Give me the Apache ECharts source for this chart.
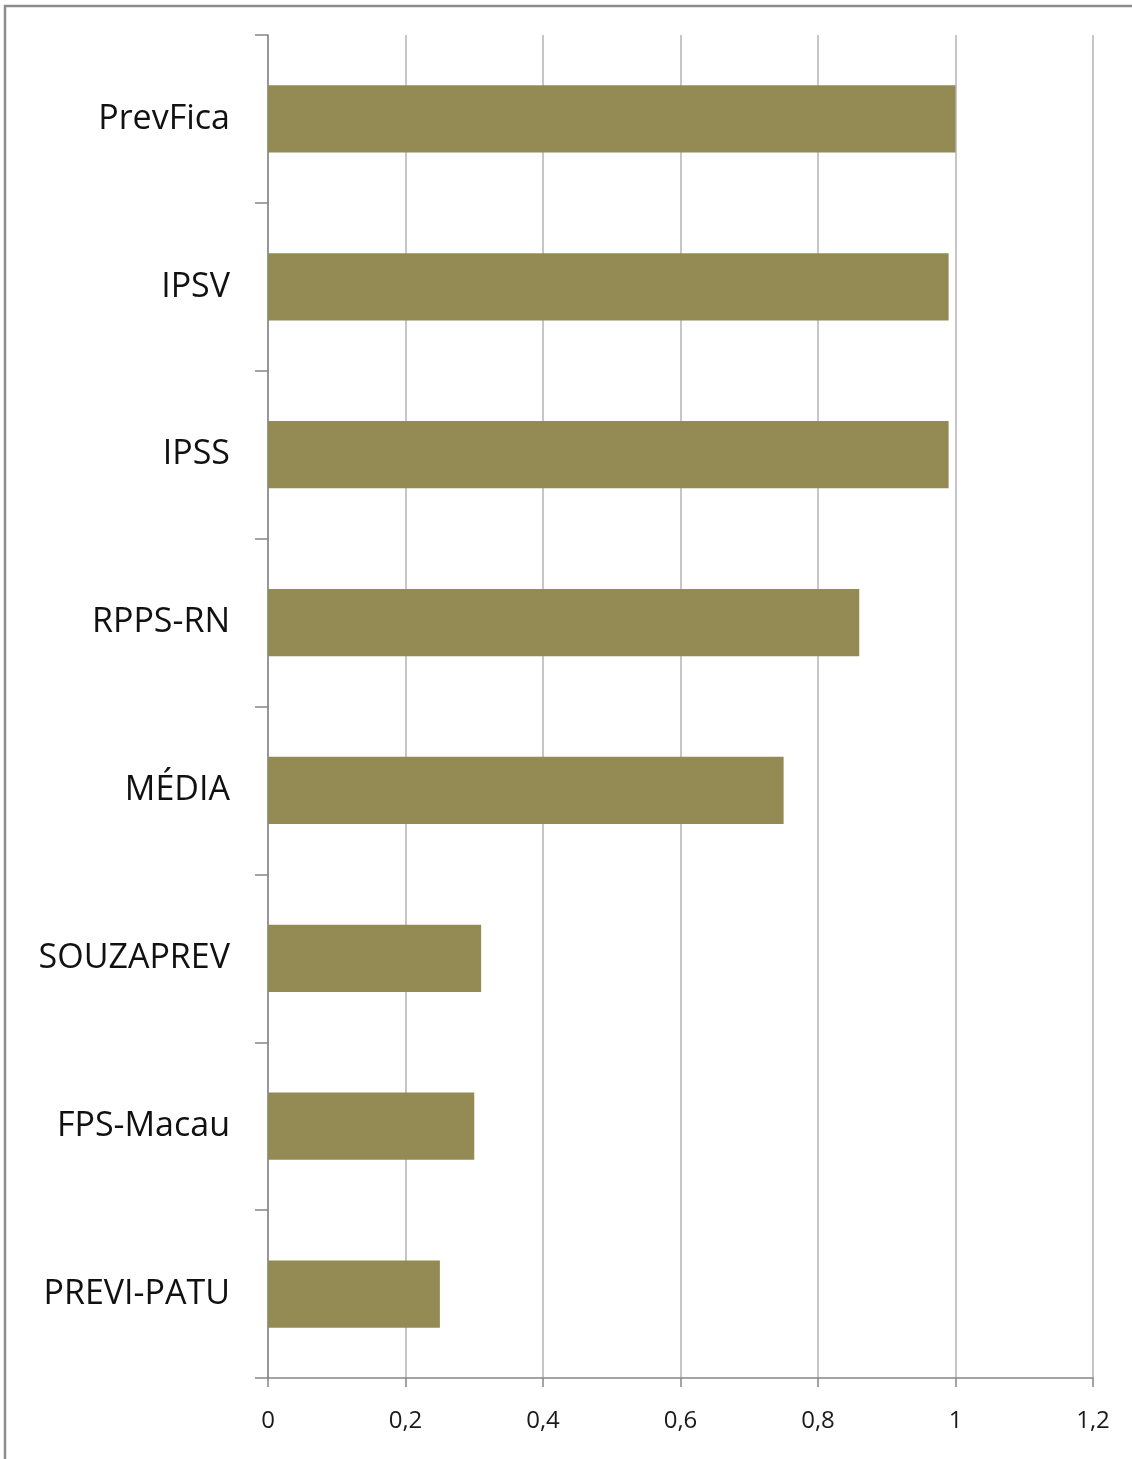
<!DOCTYPE html>
<html>
<head>
<meta charset="utf-8">
<script src="https://cdn.jsdelivr.net/npm/echarts@6/dist/echarts.min.js"></script>
<style>
html,body{margin:0;padding:0;background:#fff;}
#chart{width:1132px;height:1459px;}
</style>
</head>
<body>
<div id="chart"></div>
<script>
const categories = ['PrevFica','IPSV','IPSS','RPPS-RN','MÉDIA','SOUZAPREV','FPS-Macau','PREVI-PATU'];
const values = [1.0, 0.99, 0.99, 0.86, 0.75, 0.31, 0.30, 0.25];
const xMin = 0, xMax = 1.2, xStep = 0.2;

const chart = echarts.init(document.getElementById('chart'));
chart.setOption({
  animation: false,
  backgroundColor: '#ffffff',
  graphic: [{
    type: 'rect',
    shape: {x: 5, y: 6, width: 1140, height: 1470},
    style: {fill: 'none', stroke: '#8c8c8c', lineWidth: 2.5},
    silent: true
  }],
  grid: {left: 268, right: 39, top: 35, bottom: 81, containLabel: false},
  xAxis: {
    type: 'value', min: xMin, max: xMax, interval: xStep,
    axisLine: {show: true, lineStyle: {color: '#878787', width: 1.5}},
    axisTick: {show: true, length: 9, lineStyle: {color: '#878787', width: 1.5}},
    splitLine: {show: true, lineStyle: {color: '#b3b3b3', width: 1.5}},
    axisLabel: {
      margin: 31, color: '#1a1a1a', fontSize: 24, fontFamily: 'Open Sans',
      formatter: v => String(+v.toFixed(1)).replace('.', ',')
    }
  },
  yAxis: {
    type: 'category', data: categories, inverse: true,
    axisLine: {show: true, lineStyle: {color: '#878787', width: 1.5}},
    axisTick: {show: true, length: 13, lineStyle: {color: '#878787', width: 1.5}},
    splitLine: {show: false},
    axisLabel: {margin: 38, color: '#111', fontSize: 34, fontFamily: 'Open Sans', padding: [8, 0, 0, 0]}
  },
  series: [{
    type: 'bar', data: values, barCategoryGap: '60%',
    itemStyle: {color: '#948A54'}
  }]
});
</script>
</body>
</html>
